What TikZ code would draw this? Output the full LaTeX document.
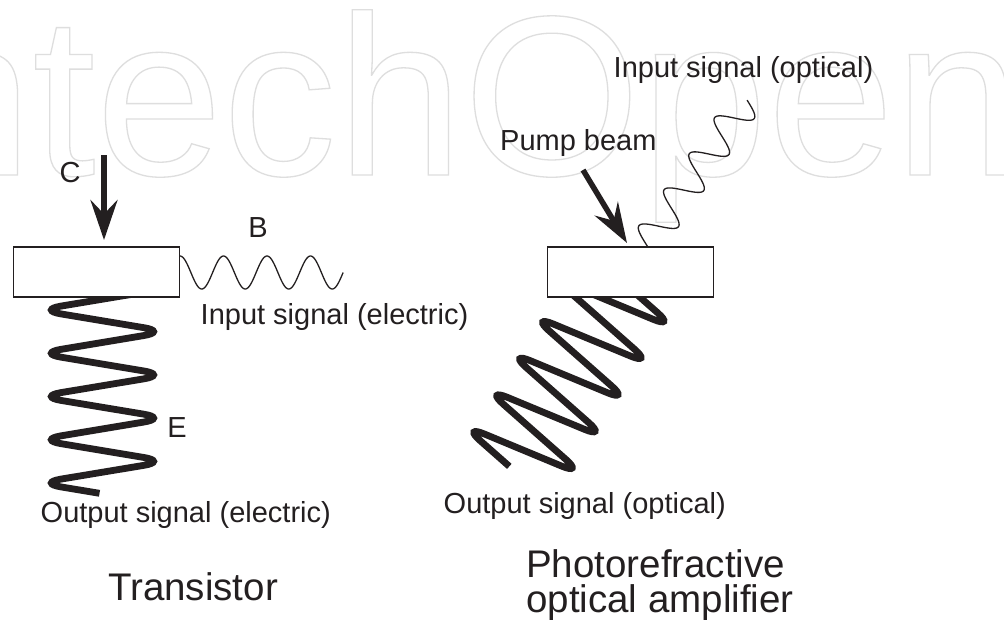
\documentclass[tikz,border=0pt]{standalone}
\usepackage{fontspec}
\setmainfont{Liberation Sans}
\usetikzlibrary{arrows.meta}
\definecolor{ink}{RGB}{35,31,32}
\definecolor{wm}{RGB}{222,222,222}
\begin{document}
\begin{tikzpicture}[x=1pt,y=-1pt,
  lbl/.style={font=\fontsize{29}{33}\selectfont, text=ink, inner sep=0pt, anchor=base west},
  ttl/.style={font=\fontsize{38.5}{42}\selectfont, text=ink, inner sep=0pt, anchor=base west},
  box/.style={draw=ink, line width=1.3pt, fill=white, minimum width=166pt, minimum height=50pt, inner sep=0pt},
  coil/.style={draw=ink, line width=6.8pt, rounded corners=24pt, line cap=butt},
  thinwave/.style={draw=ink, line width=1.3pt},
  beam/.style={draw=ink, line width=5.5pt, -{Stealth[length=40pt, width=27pt, inset=14pt]}},
  coil pic/.pic={\draw[coil] (0,-32.4) -- (65,-21.6) -- (-65,0) -- (65,21.6) -- (-65,43.25) -- (65,64.9) -- (-65,86.5) -- (65,108.1) -- (-65,129.75) -- (65,151.4) -- (-65,173) -- (-3,183.3);}
]
\useasboundingbox (0,0) rectangle (1004,625);
\fill[white] (0,0) rectangle (1004,625);

% watermark
\node[anchor=base west, inner sep=0pt, font=\fontsize{228}{232}\selectfont, text=wm] (wmk) at (-158,175)
  {\special{pdf:literal direct 1 Tr 1.3 w}IntechOpen\special{pdf:literal direct 0 Tr}};

% coils (behind the boxes)
\pic at (102.5,310) {coil pic};
\pic[rotate=-32] at (609,312.5) {coil pic};

% thin waves (behind the boxes)
\draw[thinwave] plot[domain=-0.03:3.75, samples=160, smooth, variable=\t] ({180+43.5*\t}, {272.5-16.5*cos(360*\t)});
\draw[thinwave, shift={(652.4,235.2)}, rotate=55] plot[domain=-0.3:3.75, samples=160, smooth, variable=\t] ({44*\t}, {-16.5*cos(360*\t)});

% boxes
\node[box] (tr) at (96.5,272) {};
\node[box] (pa) at (630.5,272) {};

% thick arrows
\coordinate (c0) at (104,155);
\coordinate (c1) at (104,240);
\draw[beam] (c0) -- (c1);
\coordinate (p0) at (583,170);
\coordinate (p1) at (627,243);
\draw[beam] (p0) -- (p1);

% labels
\node[lbl, anchor=base] (tC) at (70,182) {C};
\node[lbl, anchor=base] (tB) at (258,237) {B};
\node[lbl, anchor=base] (tE) at (177,437) {E};
\node[lbl] (tin1) at (200.5,324) {Input signal (electric)};
\node[lbl] (tout1) at (40.5,522) {Output signal (electric)};
\node[lbl] (tin2) at (613.5,77) {Input signal (optical)};
\node[lbl] (tpump) at (500,150) {Pump beam};
\node[lbl] (tout2) at (443.5,513) {Output signal (optical)};
\node[ttl, anchor=base] (ttr) at (193,600) {Transistor};
\node[ttl] (tph1) at (526,577) {Photorefractive};
\node[ttl] (tph2) at (526,612) {optical amplifier};
\end{tikzpicture}
\end{document}
